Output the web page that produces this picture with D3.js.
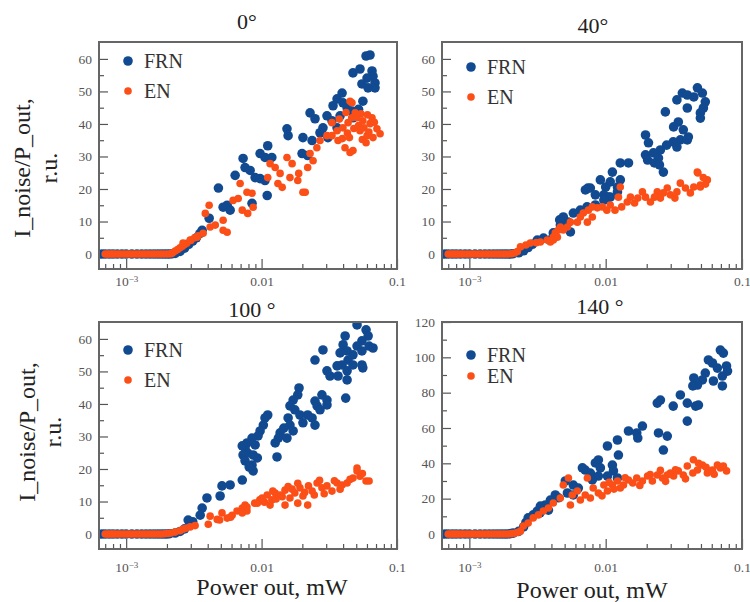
<!DOCTYPE html>
<html>
<head>
<meta charset="utf-8">
<script src="https://cdn.jsdelivr.net/npm/d3@7"></script>
<style>
  body { margin: 0; background: #fff; }
</style>
</head>
<body>
<svg id="chart" width="750" height="602"></svg>
<script>
// Noise ratio I_noise/P_out (r.u.) against output power (mW), four angles.
// Each point: [power, ratio].

const frn0 = [
  [0.00066,0],[0.0007,0],[0.00075,0],[0.0008,0],[0.00086,0],[0.00093,0],[0.001,0],[0.0011,0],[0.0012,0],
  [0.0013,0],[0.0014,0],[0.0015,0],[0.0016,0],[0.0017,0],[0.0018,0],[0.0019,0],[0.002,0],[0.0021,0],[0.0022,0.1],
  [0.0023,0.2],[0.0025,0.8],[0.0027,1.8],[0.0029,3],[0.0031,4],[0.0033,5],[0.0035,6.3],
  [0.00364,7.3],[0.0041,11.0],[0.0048,20.3],[0.00557,15.0],[0.00586,13.5],[0.0052,14.4],[0.00638,24.2],
  [0.0073,29.4],[0.00755,26.6],[0.00823,25.7],[0.00896,23.5],[0.00975,23.2],[0.0106,22.6],[0.011,18.0],
  [0.0085,15.6],[0.0111,33.3],[0.00975,30.9],[0.0106,29.7],[0.0119,29.7],[0.0154,38.5],[0.0157,36.4],
  [0.0202,35.8],[0.0236,34.9],[0.0199,30.9],[0.0219,30.3],[0.0228,43.4],[0.0248,41.6],[0.0304,42.5],
  [0.0331,41.0],[0.0284,38.8],[0.027,37.3],[0.0309,35.8],[0.0361,38.8],[0.038,42.5],[0.0393,49.5],
  [0.0361,47.7],[0.0399,46.5],[0.0337,45.6],[0.0428,45.0],[0.0465,44.0],[0.0473,41.9],[0.0473,55.7],
  [0.0533,56.9],[0.0654,56.3],[0.0665,54.7],[0.0601,54.1],[0.0688,52.6],[0.0551,52.3],[0.0611,51.1],
  [0.0688,51.1],[0.0591,60.9],[0.0632,61.2],[0.056,47],[0.052,44.5]
];
const en0 = [
  [0.0007,0],[0.00073,0],[0.00076,0],[0.00079,0],[0.00082,0],[0.00086,0],[0.0009,0],[0.00095,0],[0.001,0],
  [0.00105,0],[0.0011,0],[0.00116,0],[0.00122,0],[0.00128,0],[0.00135,0],[0.00142,0],[0.0015,0],[0.00158,0],
  [0.00166,0],[0.00175,0],[0.00184,0],[0.00194,0],[0.00204,0],[0.00214,0.1],
  [0.0022,0.4],[0.0023,0.9],[0.0024,1.4],[0.0025,1.9],[0.0026,2.4],[0.0027,2.9],[0.0028,3.3],[0.003,4.2],
  [0.0032,5],[0.0034,5.6],
  [0.00263,3.4],[0.00297,4.3],[0.00334,5.2],[0.0037,6.4],[0.00417,8.3],[0.00455,8.9],[0.0041,15],[0.00384,12.5],
  [0.0052,10.4],[0.0052,7.3],[0.00557,6.7],[0.00694,21.7],[0.00616,16.5],[0.00672,17.1],[0.0078,19],
  [0.0085,18.7],[0.00866,14.4],[0.0079,12.5],[0.0072,13.5],[0.01155,27.8],[0.0126,26.6],[0.0111,23.5],
  [0.0137,24.8],[0.0132,21.7],[0.0142,20.5],[0.0154,29.7],[0.0168,27.8],[0.0188,24.8],[0.0162,23.5],
  [0.0185,22.6],[0.021,19.0],[0.0219,26.6],[0.0202,19.0],[0.0228,30.9],[0.0256,32.7],[0.027,34.9],
  [0.0304,36.4],[0.024,28.7],[0.0331,36.4],[0.0361,37.9],[0.0399,38.8],[0.0435,40.4],[0.0465,41.9],
  [0.0367,34.9],[0.0413,32.7],[0.045,31.2],[0.0473,31.8],[0.0507,41.9],[0.0559,41.0],[0.0632,40.1],
  [0.0711,38.5],[0.075,37.0],[0.0533,37.9],[0.0601,36.4],[0.0665,35.8],[0.0591,34.2],[0.0491,43.4],
  [0.0542,43.1],[0.0654,41.9],[0.0465,46.5],[0.0331,40.4],[0.045,47],
  [0.0395,35.5],[0.043,37.2],[0.048,38.6],[0.052,39.5],[0.057,38.8],[0.062,37.5],[0.068,40.5],[0.0445,35.8],
  [0.0375,41.5],[0.042,43.5],[0.0605,42.8],[0.0555,35.2]
];

const frn40 = [
  [0.00066,0],[0.0007,0],[0.00075,0],[0.0008,0],[0.00086,0],[0.00093,0],[0.001,0],[0.0011,0],[0.0012,0],
  [0.0013,0],[0.0014,0],[0.0015,0],[0.0016,0],[0.0017,0],[0.0018,0],[0.0019,0],[0.002,0],[0.0021,0.1],
  [0.0023,0.4],[0.0025,1],[0.0027,2],[0.0029,3],[0.00315,4.3],[0.0035,4.9],[0.0039,4.3],
  [0.0471,51.1],[0.0512,49.5],[0.0538,46.8],[0.0521,44.9],[0.0495,43.4],[0.0495,41.8],[0.0365,49.5],
  [0.0397,48.9],[0.0443,48.3],[0.0333,47.4],[0.0274,43.7],[0.0397,44.9],[0.0341,40.6],[0.0315,39.1],
  [0.0371,38.2],[0.0404,36.0],[0.0353,35.1],[0.0313,34.5],[0.028,33.5],[0.0333,32.9],[0.0397,35.1],
  [0.0196,36.6],[0.0206,34.2],[0.0196,30.5],[0.0203,28.9],[0.0224,31.1],[0.0244,29.5],[0.0252,32],
  [0.0228,28],[0.0265,25.2],[0.0248,27.4],[0.0128,28],[0.0147,28],[0.0112,25.2],[0.0128,22.8],
  [0.0108,22.2],[0.0122,20.6],[0.01,20.6],[0.00914,22.8],[0.00772,20.3],[0.0084,18.2],[0.0097,18.2],
  [0.0108,17.5],[0.0122,19.1],[0.0105,17.5],[0.0097,16.6],[0.0084,15.1],[0.0073,14.5],[0.00652,13.5],
  [0.00579,12.6],[0.00489,11.4],[0.0053,9.8],[0.00551,6.8],[0.00465,8.9],[0.00413,6.5],[0.0046,10.5],
  [0.0074,20.3],[0.0071,19.7]
];
const en40 = [
  [0.0007,0],[0.00073,0],[0.00076,0],[0.00079,0],[0.00082,0],[0.00086,0],[0.0009,0],[0.00095,0],[0.001,0],
  [0.00105,0],[0.0011,0],[0.00116,0],[0.00122,0],[0.00128,0],[0.00135,0],[0.00142,0],[0.0015,0],[0.00158,0],
  [0.00166,0],[0.00175,0],[0.00184,0],[0.00194,0],[0.00204,0.1],[0.00214,0.3],[0.00225,0.8],
  [0.00237,2.2],[0.0026,2.8],[0.0028,3.4],[0.0031,3.5],[0.00332,3.7],[0.00373,4.3],[0.00413,5.2],
  [0.00427,6.5],[0.0045,7.4],[0.00465,8.3],
  [0.0557,22.8],[0.0495,21.2],[0.0443,20.6],[0.0418,18.8],[0.0385,20.3],[0.0353,21.8],[0.0333,19.1],
  [0.0322,17.2],[0.0298,18.2],[0.0283,20.3],[0.0265,18.8],[0.0252,17.2],[0.0239,19.1],[0.0228,17.5],
  [0.0213,16],[0.0196,17.5],[0.0186,19.1],[0.0172,17.2],[0.0163,15.7],[0.0152,17.5],[0.0144,16],
  [0.0131,14.5],[0.0124,17.5],[0.0128,20.6],[0.0117,13.5],[0.0108,15.1],[0.0102,13.5],[0.00945,14.5],
  [0.00869,14.2],[0.00798,14.5],[0.00746,13.5],[0.00798,11.4],[0.00734,9.8],[0.00686,12.6],[0.00652,11.4],
  [0.0062,9.8],[0.00551,9.8],[0.00524,8.3],[0.00489,7.4],[0.00442,5.2],[0.00413,4.3],[0.00393,3.7],
  [0.047,25.2],[0.052,23.5],[0.054,21.5],[0.0475,24.9],[0.0495,20.6]
];

const frn100 = [
  [0.00066,0],[0.0007,0],[0.00075,0],[0.0008,0],[0.00086,0],[0.00093,0],[0.001,0],[0.0011,0],[0.0012,0],
  [0.0013,0],[0.0014,0],[0.0015,0],[0.0016,0],[0.0017,0],[0.0018,0],[0.0019,0],[0.002,0],[0.0021,0.1],
  [0.0023,0.3],[0.0025,0.8],[0.0027,1.6],[0.00287,4.3],[0.0031,3.8],
  [0.0507,64.3],[0.0591,62.8],[0.0612,60.9],[0.0551,59.4],[0.0622,57.8],[0.0665,57.2],[0.0507,57.8],
  [0.0551,56.3],[0.0473,55.1],[0.0414,60.9],[0.04,58.2],[0.0428,56.3],[0.038,55.7],[0.0435,53.5],
  [0.0393,52],[0.0428,50.2],[0.0473,52],[0.0551,52],[0.0559,51.1],[0.0361,51.7],[0.032,48.6],[0.0304,50.2],
  [0.0367,48.6],[0.0428,47.4],[0.0418,41.8],[0.0284,56.6],[0.0248,53.5],
  [0.0279,42.8],[0.0304,41.2],[0.0248,40.9],[0.0257,39.4],[0.027,38.2],[0.0304,39.7],[0.0219,36.6],
  [0.0236,35.7],[0.0189,44.9],[0.0185,42.8],[0.0171,41.2],[0.0162,39.4],[0.0176,38.2],[0.0192,36.6],
  [0.0202,34.2],[0.0157,35.7],[0.0162,33.5],[0.0146,32.6],[0.0137,31.1],[0.0133,29.5],[0.0126,28],
  [0.013,23.7],[0.0171,31.7],[0.0154,29.5],[0.0248,33.5],
  [0.0111,36.6],[0.0106,35.7],[0.0103,33.5],[0.00975,31.7],[0.00942,30.2],[0.0085,29.5],[0.00896,27.4],
  [0.0078,28],[0.00755,26.5],[0.0079,24.9],[0.00866,24.3],[0.0093,23.4],[0.0085,21.2],[0.00866,19.4],
  [0.0072,27.1],[0.0073,24.3],[0.00755,22.5],[0.0081,20.6],
  [0.0072,16.6],[0.00586,15.1],[0.0051,14.8],[0.00494,11.7],[0.00395,11.1],[0.00364,8],[0.00352,5.8]
];
const en100 = [
  [0.0007,0],[0.00073,0],[0.00076,0],[0.00079,0],[0.00082,0],[0.00086,0],[0.0009,0],[0.00095,0],[0.001,0],
  [0.00105,0],[0.0011,0],[0.00116,0],[0.00122,0],[0.00128,0],[0.00135,0],[0.00142,0],[0.0015,0],[0.00158,0],
  [0.00166,0],[0.00175,0],[0.00184,0],[0.00194,0.1],[0.00204,0.2],[0.00214,0.3],[0.0023,0.6],[0.0025,1],
  [0.00263,1.5],[0.00275,1.8],[0.00297,2.2],[0.00323,2.6],
  [0.00404,3.0],[0.00417,5.5],[0.0047,4.5],[0.0051,6.5],[0.00557,4.9],[0.00606,5.8],[0.00659,7.1],
  [0.0072,8],[0.00755,8.9],[0.0078,7.1],[0.0049,4.3],[0.0059,5.2],[0.0072,6.5],[0.0078,8.3],[0.0089,9.5],
  [0.0097,10.5],
  [0.0093,9.5],[0.0101,11.1],[0.011,12],[0.0119,10.5],[0.0126,12.6],[0.0137,12],[0.0149,13.5],[0.0162,11.1],
  [0.0176,12.6],[0.0192,14.2],[0.0202,11.7],[0.0222,14.8],[0.0236,13.2],[0.0257,15.7],[0.0279,14.2],
  [0.0304,14.8],[0.0331,13.2],[0.0361,15.7],[0.0393,15.1],[0.0428,15.7],[0.0473,17.2],[0.0507,19.4],
  [0.0533,17.8],[0.0591,16.3],[0.0622,16.3],[0.0185,9.5],[0.0219,8.9],[0.0149,8.9],[0.01155,8.9],
  [0.0507,20.3],[0.0105,9.8],[0.0128,10.8],[0.0142,11.5],[0.0168,13.8],[0.0208,12.8],[0.0245,12.0],
  [0.0268,16.5],[0.029,12.4],[0.0345,16.4],[0.038,13.8],[0.045,16.8],[0.0555,18.6],[0.0121,13.2],
  [0.0157,14.6],[0.0185,15.6]
];

const frn140 = [
  [0.00066,0],[0.0007,0],[0.00075,0],[0.0008,0],[0.00086,0],[0.00093,0],[0.001,0],[0.0011,0],[0.0012,0],
  [0.0013,0],[0.0014,0],[0.0015,0],[0.0016,0],[0.0017,0],[0.0018,0],[0.0019,0],[0.002,0.2],[0.0021,0.5],
  [0.0023,1.5],[0.0025,4],[0.0026,6.5],
  [0.0694,104.1],[0.073,102.4],[0.0567,98.5],[0.0607,96.8],[0.066,93.9],[0.077,95.1],[0.0783,92.2],
  [0.0718,89.4],[0.0718,83.8],[0.0617,86.6],[0.0538,91.1],[0.0512,87.2],[0.0443,88.3],[0.0471,84.3],
  [0.0436,83.8],[0.0353,78.7],[0.0397,74.1],[0.0457,72.4],[0.0479,73],[0.0313,72.4],[0.0252,75.8],
  [0.0239,74.1],[0.0397,63.9],[0.0283,55.4],[0.0244,57.2],[0.0265,47.5],[0.0186,61.1],[0.0169,57.2],
  [0.0172,54.3],[0.0147,58.3],[0.0122,53.2],[0.0103,49.8],[0.0124,44.7],[0.00884,41.9],[0.0084,40.2],
  [0.00914,37.4],[0.00708,36.2],[0.00772,34.5],[0.00675,37.4],[0.0112,39],[0.0114,35.7],[0.0103,32.8],
  [0.0122,31.7],[0.00884,32.8],[0.00798,30.6],[0.00506,30],[0.00579,27.7],[0.0063,26],[0.00579,22.1],
  [0.00524,23.2],[0.00427,22.1],[0.00393,19.2],[0.00361,16.4],[0.00332,15.8],[0.00315,13],[0.00294,10.8],
  [0.0027,9.1],[0.0045,20.5],[0.0038,13.5],[0.0033,12]
];
const en140 = [
  [0.0007,0],[0.00073,0],[0.00076,0],[0.00079,0],[0.00082,0],[0.00086,0],[0.0009,0],[0.00095,0],[0.001,0],
  [0.00105,0],[0.0011,0],[0.00116,0],[0.00122,0],[0.00128,0],[0.00135,0],[0.00142,0],[0.0015,0],[0.00158,0],
  [0.00166,0],[0.00175,0],[0.00184,0],[0.00194,0],[0.00204,0.2],[0.00214,0.4],[0.00225,0.8],[0.00237,1.6],
  [0.00249,4.5],[0.0027,6.2],[0.00294,9.1],[0.00321,10.8],[0.00349,13],[0.0038,14.7],[0.00413,17.5],
  [0.00465,20.4],
  [0.077,35.7],[0.0694,37.4],[0.066,39],[0.0607,36.2],[0.0557,34.5],[0.0512,39],[0.0471,36.2],[0.0436,34.5],
  [0.0397,38.5],[0.0371,33.4],[0.0341,35.7],[0.0315,32.8],[0.0298,34.5],[0.0283,33.4],[0.0261,31.7],
  [0.0239,33.4],[0.022,30],[0.0203,32.8],[0.0186,30],[0.0169,31.7],[0.0158,28.9],[0.0147,30.6],[0.0135,27.7],
  [0.0128,26],[0.0122,30],[0.0112,27.7],[0.0103,24.3],[0.0097,27.7],[0.00884,23.2],[0.0081,26],
  [0.00772,20.4],[0.00708,22.1],[0.00652,19.2],[0.0062,24.3],[0.00569,22.1],[0.00551,16.4],[0.00533,31.7],
  [0.00489,27.7],[0.00734,31.7],[0.044,42],[0.048,40],[0.0252,36],
  [0.0106,29.2],[0.0115,25.4],[0.0139,31.8],[0.0178,27.5],[0.0212,33.6],[0.0275,29.8],[0.0325,36.4],
  [0.0385,31.2],[0.0545,37.8],[0.0625,33.8],[0.073,38.4],[0.0094,21.6]
];

// Axis ticks
const xMajorTicks = [0.001, 0.01, 0.1];
const xMinorTicks = [0.0007, 0.0008, 0.0009, 0.002, 0.003, 0.004, 0.005, 0.006, 0.007, 0.008, 0.009,
                     0.02, 0.03, 0.04, 0.05, 0.06, 0.07, 0.08, 0.09];
const yTicksSmall = [0, 10, 20, 30, 40, 50, 60];
const yMinorSmall = [5, 15, 25, 35, 45, 55];
const yTicksLarge = [0, 20, 40, 60, 80, 100, 120];
const yMinorLarge = [10, 30, 50, 70, 90, 110];
const seriesNames = ["FRN", "EN"];
const titles = ["0°", "40°", "100 °", "140 °"];

const colors = { FRN: "#114a90", EN: "#fb4f17" };
const serif = "'Liberation Serif', 'Times New Roman', 'DejaVu Serif', serif";
const xDomain = [0.00063, 0.1];

// Panel layout
const layout = [
  { left: 99,  top: 42,  w: 298, h: 227, yDomain: [-4.6, 65.2], yTicks: yTicksSmall, yMinor: yMinorSmall,
    titleX: 247, titleY: 29, leg: [19, 49], xLabPad: 7.5, frn: frn0, en: en0, title: titles[0] },
  { left: 442, top: 42,  w: 300, h: 227, yDomain: [-4.6, 65.2], yTicks: yTicksSmall, yMinor: yMinorSmall,
    titleX: 593, titleY: 33, leg: [25, 55], xLabPad: 7.5, frn: frn40, en: en40, title: titles[1] },
  { left: 99,  top: 322, w: 298, h: 227, yDomain: [-4.6, 65.2], yTicks: yTicksSmall, yMinor: yMinorSmall,
    titleX: 252, titleY: 317, leg: [28, 58], xLabPad: 13, frn: frn100, en: en100, title: titles[2] },
  { left: 442, top: 322, w: 300, h: 227, yDomain: [-8.5, 120], yTicks: yTicksLarge, yMinor: yMinorLarge,
    titleX: 600, titleY: 314, leg: [33, 54], xLabPad: 13, frn: frn140, en: en140, title: titles[3] }
];

const svg = d3.select("#chart");
svg.append("rect").attr("width", 750).attr("height", 602).attr("fill", "#fff");

layout.forEach((p, i) => {
  const g = svg.append("g");
  const x = d3.scaleLog().domain(xDomain).range([p.left, p.left + p.w]);
  const y = d3.scaleLinear().domain(p.yDomain).range([p.top + p.h, p.top]);

  const clipId = "clip" + i;
  svg.append("clipPath").attr("id", clipId)
    .append("rect").attr("x", p.left).attr("y", p.top).attr("width", p.w).attr("height", p.h);

  // x axis: major ticks with labels, minor ticks, all pointing inward
  const xAxis = g.append("g").attr("transform", `translate(0,${p.top + p.h})`)
    .call(d3.axisBottom(x).tickValues(xMajorTicks).tickSize(-10).tickPadding(p.xLabPad)
      .tickFormat(d => d === 0.001 ? "" : (d === 0.01 ? "0.01" : "0.1")));
  xAxis.selectAll(".tick text").filter(d => d === 0.001).each(function () {
    const t = d3.select(this);
    t.append("tspan").text("10");
    t.append("tspan").attr("dy", "-0.45em").attr("font-size", "9px").text("−3");
  });
  g.append("g").attr("transform", `translate(0,${p.top + p.h})`)
    .call(d3.axisBottom(x).tickValues(xMinorTicks).tickSize(-5).tickFormat(""));

  // y axis
  g.append("g").attr("transform", `translate(${p.left},0)`)
    .call(d3.axisLeft(y).tickValues(p.yTicks).tickSize(-9).tickPadding(7).tickFormat(d3.format("d")));
  g.append("g").attr("transform", `translate(${p.left},0)`)
    .call(d3.axisLeft(y).tickValues(p.yMinor).tickSize(-5).tickFormat(""));

  g.selectAll(".domain").remove();
  g.selectAll(".tick line").attr("stroke", "#555").attr("stroke-width", 1.2);
  g.selectAll(".tick text").attr("fill", "#555").style("font-size", "13.5px").style("font-family", serif);

  // points
  const pts = g.append("g").attr("clip-path", `url(#${clipId})`);
  pts.selectAll("circle.frn").data(p.frn).join("circle").attr("class", "frn")
    .attr("cx", d => x(d[0])).attr("cy", d => y(d[1])).attr("r", 4.8).attr("fill", colors.FRN);
  pts.selectAll("circle.en").data(p.en).join("circle").attr("class", "en")
    .attr("cx", d => x(d[0])).attr("cy", d => y(d[1])).attr("r", 3.8).attr("fill", colors.EN);

  // frame
  g.append("rect").attr("x", p.left).attr("y", p.top).attr("width", p.w).attr("height", p.h)
    .attr("fill", "none").attr("stroke", "#666").attr("stroke-width", 2);

  // legend
  seriesNames.forEach((name, k) => {
    const ly = p.top + p.leg[k];
    g.append("circle").attr("cx", p.left + 29).attr("cy", ly)
      .attr("r", name === "FRN" ? 4.8 : 3.8).attr("fill", colors[name]);
    g.append("text").attr("x", p.left + 45).attr("y", ly).attr("dy", "0.35em")
      .style("font-family", serif).style("font-size", "20px").attr("fill", "#333").text(name);
  });

  // title
  g.append("text").attr("x", p.titleX).attr("y", p.titleY).attr("text-anchor", "middle")
    .style("font-family", serif).style("font-size", "22px").attr("fill", "#222").text(p.title);
});

// shared axis labels
const yLabels = [{ cy: 168, x1: 30, x2: 57 }, { cy: 432, x1: 35, x2: 61 }];
yLabels.forEach(l => {
  svg.append("text").attr("transform", `translate(${l.x1},${l.cy}) rotate(-90)`)
    .attr("text-anchor", "middle").style("font-family", serif).style("font-size", "24px")
    .attr("fill", "#222").text("I_noise/P_out,");
  svg.append("text").attr("transform", `translate(${l.x2},${l.cy}) rotate(-90)`)
    .attr("text-anchor", "middle").style("font-family", serif).style("font-size", "24px")
    .attr("fill", "#222").text("r.u.");
});
[{ x: 272, y: 595 }, { x: 592, y: 598 }].forEach(l => {
  svg.append("text").attr("x", l.x).attr("y", l.y).attr("text-anchor", "middle")
    .style("font-family", serif).style("font-size", "24px").attr("fill", "#222").text("Power out, mW");
});
</script>
</body>
</html>
